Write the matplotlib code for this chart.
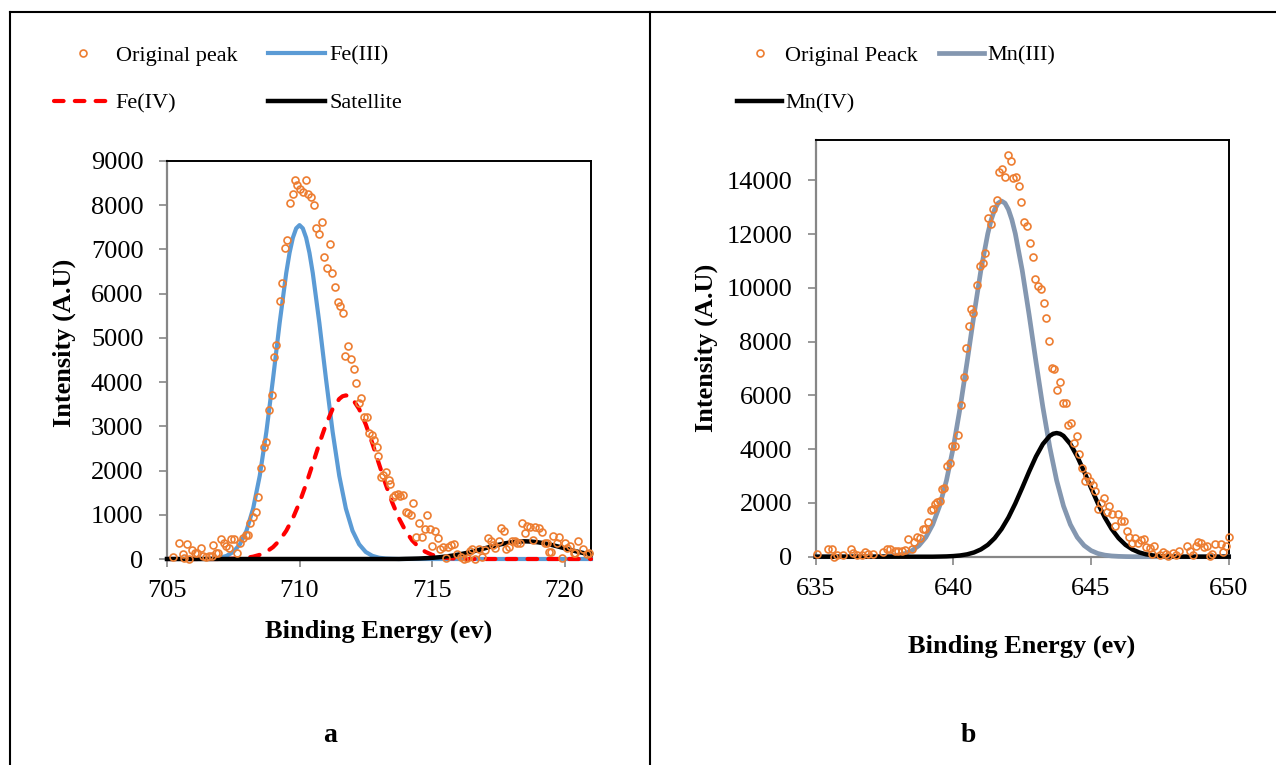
import numpy as np
import matplotlib
matplotlib.use('Agg')
import matplotlib.pyplot as plt
from matplotlib.lines import Line2D

plt.rcParams['font.family'] = 'Liberation Serif'

# ---- panel a : Fe 2p ----
fe_e = [705.24, 705.46, 705.59, 705.64, 705.76, 705.84, 705.94, 706.04, 706.14, 706.27,
        706.37, 706.47, 706.59, 706.68, 706.74, 706.84, 706.94, 707.05, 707.14, 707.24,
        707.34, 707.43, 707.52, 707.64, 707.77, 707.87, 707.97, 708.06, 708.14, 708.24,
        708.35, 708.45, 708.56, 708.65, 708.75, 708.85, 708.95, 709.02, 709.12, 709.25,
        709.35, 709.44, 709.54, 709.65, 709.75, 709.84, 709.92, 710.01, 710.12, 710.24,
        710.33, 710.44, 710.54, 710.63, 710.73, 710.84, 710.94, 711.04, 711.14, 711.24,
        711.34, 711.44, 711.54, 711.64, 711.73, 711.83, 711.94, 712.04, 712.14, 712.23,
        712.33, 712.42, 712.53, 712.63, 712.73, 712.83, 712.91, 712.98, 713.08, 713.16,
        713.26, 713.36, 713.43, 713.51, 713.61, 713.71, 713.81, 713.91, 714.01, 714.11,
        714.20, 714.30, 714.39, 714.52, 714.62, 714.73, 714.83, 714.93, 715.01, 715.11,
        715.21, 715.32, 715.42, 715.51, 715.61, 715.70, 715.83, 715.95, 716.08, 716.20,
        716.33, 716.42, 716.52, 716.64, 716.77, 716.89, 716.99, 717.12, 717.21, 717.30,
        717.39, 717.52, 717.62, 717.71, 717.81, 717.92, 718.02, 718.12, 718.21, 718.31,
        718.40, 718.50, 718.58, 718.71, 718.81, 718.90, 719.02, 719.15, 719.25, 719.33,
        719.40, 719.50, 719.58, 719.71, 719.80, 719.90, 720.00, 720.10, 720.20, 720.34,
        720.40, 720.50, 720.71, 720.84, 720.92]
fe_i = [52, 355, 106, 16, 339, 0, 204, 143, 146, 256,
        75, 38, 60, 75, 316, 143, 146, 445, 355, 302,
        256, 445, 445, 146, 369, 468, 543, 543, 807, 957,
        1070, 1395, 2065, 2526, 2653, 3370, 3709, 4561, 4832, 5827,
        6249, 7040, 7214, 8044, 8247, 8571, 8458, 8360, 8292, 8571,
        8254, 8194, 8005, 7478, 7350, 7614, 6837, 6573, 7116, 6475,
        6158, 5819, 5729, 5570, 4591, 4824, 4523, 4290, 3973, 3520,
        3648, 3218, 3220, 2842, 2800, 2691, 2526, 2329, 1862, 1900,
        1975, 1787, 1696, 1395, 1447, 1460, 1430, 1447, 1070, 1030,
        1000, 1274, 505, 822, 505, 671, 995, 671, 302, 641,
        475, 226, 280, 16, 280, 317, 340, 120, 40, 0,
        30, 180, 234, 0, 219, 52, 212, 482, 415, 317,
        241, 415, 693, 633, 226, 279, 415, 415, 369, 369,
        822, 580, 747, 731, 430, 716, 693, 618, 369, 369,
        166, 166, 520, 369, 490, 16, 369, 250, 300, 128,
        128, 415, 219, 113, 128]

fe3_e = [705.0, 706.25, 706.5, 706.75, 707.0, 707.25, 707.5, 707.75, 708.0, 708.25,
         708.5, 708.75, 709.0, 709.25, 709.5, 709.625, 709.75, 709.875, 710.0, 710.125,
         710.25, 710.375, 710.5, 710.75, 711.0, 711.25, 711.5, 711.75, 712.0, 712.25,
         712.5, 712.75, 713.0, 713.25, 713.5, 713.75, 721.0]
fe3_i = [0, 0, 4, 11, 29, 71, 159, 332, 640, 1140,
         1882, 2877, 4070, 5335, 6470, 6924, 7265, 7477, 7550, 7477,
         7265, 6924, 6470, 5335, 4070, 2877, 1882, 1140, 640, 332,
         159, 71, 29, 11, 4, 0, 0]

fe4_e = [705.0, 707.0, 707.25, 707.5, 707.75, 708.0, 708.25, 708.5, 708.75, 709.0,
         709.25, 709.5, 709.75, 710.0, 710.25, 710.5, 710.75, 711.0, 711.25, 711.5,
         711.625, 711.75, 711.875, 712.0, 712.25, 712.5, 712.75, 713.0, 713.25, 713.5,
         713.75, 714.0, 714.25, 714.5, 714.75, 715.0, 715.25, 715.5, 715.75, 716.0,
         716.25, 716.5, 721.0]
fe4_i = [0, 0, 3, 7, 14, 28, 53, 95, 163, 268,
         422, 638, 923, 1278, 1694, 2150, 2615, 3044, 3393, 3620,
         3680, 3700, 3680, 3620, 3393, 3044, 2615, 2150, 1694, 1278,
         923, 638, 422, 268, 163, 95, 53, 28, 14, 7,
         3, 0, 0]

sat_e = [705.0, 713.75, 714.0, 714.25, 714.5, 714.75, 715.0, 715.25, 715.5, 715.75,
         716.0, 716.25, 716.5, 716.75, 717.0, 717.25, 717.5, 717.75, 718.0, 718.25,
         718.5, 718.75, 719.0, 719.25, 719.5, 719.75, 720.0, 720.25, 720.5, 720.75,
         721.0]
sat_i = [0, 0, 4, 7, 11, 18, 26, 38, 54, 75,
         100, 130, 164, 202, 243, 283, 320, 353, 378, 394,
         400, 394, 378, 353, 320, 283, 243, 202, 164, 130,
         100]

# ---- panel b : Mn 2p ----
mn_e = [635.06, 635.46, 635.58, 635.66, 635.79, 635.98, 636.27, 636.37, 636.49, 636.67,
        636.79, 636.91, 637.07, 637.46, 637.60, 637.70, 637.88, 638.00, 638.12, 638.24,
        638.36, 638.49, 638.58, 638.69, 638.79, 638.89, 638.97, 639.09, 639.18, 639.25,
        639.35, 639.42, 639.50, 639.58, 639.66, 639.76, 639.86, 639.96, 640.06, 640.18,
        640.28, 640.37, 640.46, 640.56, 640.63, 640.73, 640.87, 640.97, 641.07, 641.16,
        641.25, 641.36, 641.45, 641.57, 641.66, 641.77, 641.88, 641.97, 642.08, 642.18,
        642.27, 642.38, 642.47, 642.58, 642.69, 642.78, 642.88, 642.97, 643.07, 643.17,
        643.28, 643.38, 643.46, 643.57, 643.67, 643.75, 643.88, 643.97, 644.08, 644.18,
        644.29, 644.38, 644.48, 644.58, 644.67, 644.77, 644.87, 644.97, 645.06, 645.16,
        645.27, 645.35, 645.47, 645.57, 645.66, 645.77, 645.87, 645.99, 646.09, 646.20,
        646.30, 646.39, 646.48, 646.60, 646.70, 646.81, 646.91, 647.01, 647.13, 647.21,
        647.30, 647.49, 647.61, 647.73, 647.80, 647.98, 648.10, 648.20, 648.49, 648.61,
        648.71, 648.80, 648.90, 649.00, 649.10, 649.20, 649.32, 649.40, 649.50, 649.71,
        649.80, 649.90, 650.00]
mn_i = [89, 286, 299, 0, 62, 62, 273, 149, 62, 62,
        161, 87, 87, 161, 286, 286, 224, 224, 224, 248,
        658, 273, 558, 744, 682, 1018, 1018, 1302, 1737, 1760,
        1960, 2050, 2080, 2507, 2544, 3374, 3498, 4129, 4116, 4527,
        5642, 6695, 7751, 8592, 9202, 9053, 10106, 10813, 10937, 11285,
        12587, 12380, 12922, 13268, 14298, 14410, 14134, 14942, 14720, 14100,
        14134, 13799, 13205, 12460, 12300, 11657, 11136, 10318, 10080, 9960,
        9425, 8890, 8023, 7007, 6970, 6200, 6510, 5728, 5700, 4899,
        4990, 4240, 4490, 3820, 3288, 2827, 3000, 2827, 2680, 2455,
        1760, 2000, 2200, 1670, 1880, 1570, 1142, 1570, 1340, 1340,
        970, 744, 496, 682, 496, 620, 645, 372, 310, 87,
        397, 62, 161, 87, 25, 124, 62, 211, 397, 211,
        62, 397, 558, 520, 372, 397, 25, 87, 471, 471,
        186, 397, 720]

mn3_e = [635.0, 637.0, 637.25, 637.5, 637.75, 638.0, 638.25, 638.5, 638.75, 639.0,
         639.25, 639.5, 639.75, 640.0, 640.25, 640.5, 640.75, 641.0, 641.25, 641.375,
         641.5, 641.625, 641.75, 641.875, 642.0, 642.125, 642.25, 642.5, 642.75, 643.0,
         643.25, 643.5, 643.75, 644.0, 644.25, 644.5, 644.75, 645.0, 645.25, 645.5,
         645.75, 646.0, 646.25, 646.5, 650.0]
mn3_i = [0, 0, 5, 13, 28, 59, 119, 228, 415, 722,
         1196, 1886, 2840, 4077, 5569, 7254, 9006, 10657, 12017, 12534,
         12915, 13150, 13230, 13150, 12915, 12534, 12017, 10657, 9006, 7254,
         5569, 4077, 2840, 1886, 1196, 722, 415, 228, 119, 59,
         28, 13, 5, 0, 0]

mn4_e = [635.0, 639.25, 639.5, 639.75, 640.0, 640.25, 640.5, 640.75, 641.0, 641.25,
         641.5, 641.75, 642.0, 642.25, 642.5, 642.75, 643.0, 643.25, 643.5, 643.625,
         643.75, 643.875, 644.0, 644.25, 644.5, 644.75, 645.0, 645.25, 645.5, 645.75,
         646.0, 646.25, 646.5, 646.75, 647.0, 647.25, 647.5, 647.75, 648.0, 648.25,
         650.0]
mn4_i = [0, 0, 5, 11, 24, 47, 88, 158, 271, 441,
         690, 1028, 1459, 1980, 2561, 3162, 3726, 4189, 4494, 4573,
         4600, 4573, 4494, 4189, 3726, 3162, 2561, 1980, 1459, 1028,
         690, 441, 271, 158, 88, 47, 24, 11, 5, 0,
         0]

W, H = 1276, 765
fig = plt.figure(figsize=(W / 100, H / 100), dpi=100)

axa = fig.add_axes([167 / W, 1 - 559 / H, 424 / W, 398 / H])
axb = fig.add_axes([815.7 / W, 1 - 556.7 / H, 413 / W, 416.7 / H])

orange = '#ED7D31'

def style(ax):
    for s in ['left', 'bottom']:
        ax.spines[s].set_color('#868686')
        ax.spines[s].set_linewidth(1.6)
    for s in ['top', 'right']:
        ax.spines[s].set_color('black')
        ax.spines[s].set_linewidth(1.4)
    ax.tick_params(axis='both', direction='out', length=6, width=1.2,
                   color='#868686', labelsize=19)
    ax.tick_params(axis='x', pad=9)
    ax.tick_params(axis='y', pad=11)

# panel a
pa, = axa.plot(fe_e, fe_i, 'o', mfc='none', mec=orange, ms=5, mew=1.2,
               clip_on=False, zorder=5, label='Original peak')
l3, = axa.plot(fe3_e, fe3_i, color='#5B9BD5', lw=3, clip_on=False, zorder=3, label='Fe(III)')
l4, = axa.plot(fe4_e, fe4_i, color='#FF0000', lw=3, dashes=(2.3, 2.7),
               dash_capstyle='round', clip_on=False, zorder=3, label='Fe(IV)')
ls, = axa.plot(sat_e, sat_i, color='black', lw=3.2, clip_on=False, zorder=4, label='Satellite')
axa.set_xlim(705, 721)
axa.set_ylim(0, 9000)
axa.set_xticks([705, 710, 715, 720])
axa.set_yticks(range(0, 9001, 1000))
style(axa)

# panel b
pb, = axb.plot(mn_e, mn_i, 'o', mfc='none', mec=orange, ms=5, mew=1.2,
               clip_on=False, zorder=5, label='Original Peack')
m3, = axb.plot(mn3_e, mn3_i, color='#8497B0', lw=3.4, clip_on=False, zorder=3, label='Mn(III)')
m4, = axb.plot(mn4_e, mn4_i, color='black', lw=3.2, clip_on=False, zorder=4, label='Mn(IV)')
axb.set_xlim(635, 650)
axb.set_ylim(0, 15500)
axb.set_xticks([635, 640, 645, 650])
axb.set_yticks(range(0, 14001, 2000))
style(axb)

# legends
fig.legend(handles=[pa, l4, l3, ls], loc='upper left', bbox_to_anchor=(54 / W, 1 - 45 / H),
           ncol=2, frameon=False, fontsize=16, handlelength=2.57, handletextpad=0.2,
           columnspacing=1.4, borderpad=0, borderaxespad=0, labelspacing=1.23, numpoints=1)
fig.legend(handles=[pb, m4, m3], loc='upper left', bbox_to_anchor=(737 / W, 1 - 45 / H),
           ncol=2, frameon=False, fontsize=16, handlelength=2.03, handletextpad=0.15,
           columnspacing=0.95, borderpad=0, borderaxespad=0, labelspacing=1.23, numpoints=1)

# axis titles
fig.text(379 / W, 1 - 631 / H, 'Binding Energy (ev)', ha='center', va='center',
         fontsize=19, fontweight='bold')
fig.text(1022 / W, 1 - 646 / H, 'Binding Energy (ev)', ha='center', va='center',
         fontsize=19, fontweight='bold')
fig.text(64 / W, 1 - 343 / H, 'Intensity (A.U)', ha='center', va='center', rotation=90,
         fontsize=19, fontweight='bold')
fig.text(706 / W, 1 - 348 / H, 'Intensity (A.U)', ha='center', va='center', rotation=90,
         fontsize=19, fontweight='bold')
fig.text(330 / W, 1 - 735 / H, 'a', ha='center', va='center', fontsize=20, fontweight='bold')
fig.text(968 / W, 1 - 735 / H, 'b', ha='center', va='center', fontsize=20, fontweight='bold')

# table borders
for xs, ys in [([10, 10], [12, H]), ([650, 650], [12, H]), ([10, W], [12, 12])]:
    fig.add_artist(Line2D([x / W for x in xs], [1 - y / H for y in ys],
                          color='black', lw=1.5, transform=fig.transFigure))

fig.savefig('out.png', dpi=100)
